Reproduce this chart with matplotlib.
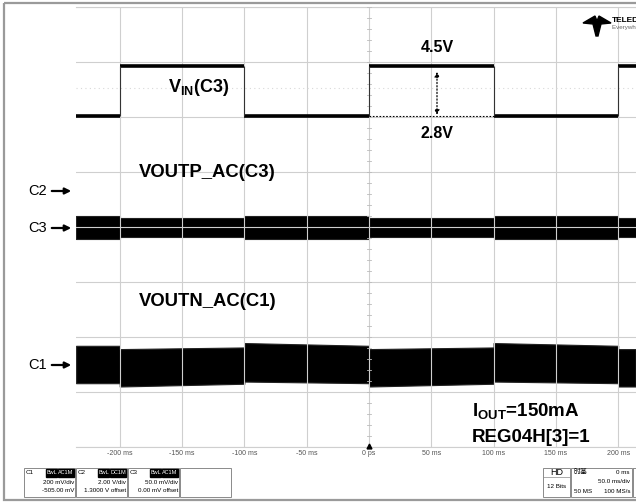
import matplotlib
matplotlib.use("Agg")
import matplotlib.pyplot as plt
from matplotlib.patches import Rectangle, Polygon, FancyArrowPatch
from matplotlib.transforms import Affine2D, Bbox, TransformedBbox

W, H = 636, 503

# time axis in ms, vertical axis in screen divisions (0 = bottom graticule line)
tick_ms = [-250, -200, -150, -100, -50, 0, 50, 100, 150, 200]
tick_text = ["-250 ms", "-200 ms", "-150 ms", "-100 ms", "-50 ms", "0 ps",
             "50 ms", "100 ms", "150 ms", "200 ms"]

# VIN square wave, one level per segment
vin_t = [-235, -200, -100, 0, 100, 200, 214]
vin_level = [6.02, 6.92, 6.02, 6.92, 6.02, 6.92]

# ripple envelopes of the two outputs
env_t = [-235, -200, -200, -100, -100, 0, 0, 100, 100, 200, 200, 214]
vp_top = [4.20, 4.20, 4.16, 4.16, 4.20, 4.20, 4.16, 4.16, 4.20, 4.20, 4.16, 4.16]
vp_bot = [3.78, 3.78, 3.82, 3.82, 3.78, 3.78, 3.82, 3.82, 3.78, 3.78, 3.82, 3.82]
vn_top = [1.84, 1.84, 1.78, 1.81, 1.89, 1.84, 1.78, 1.81, 1.89, 1.84, 1.78, 1.78]
vn_bot = [1.16, 1.16, 1.10, 1.15, 1.19, 1.16, 1.10, 1.15, 1.19, 1.16, 1.10, 1.10]

# channel setup boxes
ch_names = ["C1", "C2", "C3"]
ch_coupling = ["AC1M", "DC1M", "AC1M"]
ch_scale = ["200 mV/div", "2.00 V/div", "50.0 mV/div"]
ch_offset = ["-505.00 mV", "1.3000 V offset", "0.00 mV offset"]

plt.rcParams["mathtext.fontset"] = "custom"
plt.rcParams["mathtext.rm"] = "Liberation Sans:bold"
plt.rcParams["mathtext.bf"] = "Liberation Sans:bold"
plt.rcParams["font.family"] = ["Liberation Sans", "DejaVu Sans"]

fig = plt.figure(figsize=(W / 100, H / 100), dpi=100)
# pixel coordinates, y pointing down
pix = Affine2D().scale(1 / W, -1 / H).translate(0, 1) + fig.transFigure

ax = fig.add_axes([76 / W, (H - 447) / H, (W - 76) / W, 440 / H])
for s in ax.spines.values():
    s.set_visible(False)

# graticule
ax.set_yticks(range(9))
ax.set_xticks(tick_ms)
ax.set_xlim(-235.1, 214.3)
ax.set_ylim(0, 8)
ax.grid(color="#cfcfcf", lw=0.8)
ax.tick_params(length=0, labelleft=False, labelbottom=False)
ax.axhline(8, color="#cfcfcf", lw=0.8, clip_on=False)
ax.axhline(0, color="#cfcfcf", lw=0.8, clip_on=False)
for i in range(41):
    ax.plot([-1.6, 1.6], [i * 0.2, i * 0.2], color="#bbbbbb", lw=0.6)
ax.axhline(6.53, color="#d8d8d8", lw=0.8, ls=(0, (1, 3)))

clip = TransformedBbox(Bbox([[72 / W, 0], [1, 1]]), fig.transFigure)
for t, lab in zip(tick_ms, tick_text):
    txt = ax.text(t, -0.11, lab, ha="center", va="center", fontsize=5,
                  color="#555555", family=["Liberation Sans Narrow", "Liberation Sans"],
                  clip_on=True)
    txt.set_clip_box(clip)
ax.plot([0], [0.02], marker="^", color="black", ms=3.5, clip_on=False)

# VIN trace
ax.hlines(vin_level, vin_t[:-1], vin_t[1:], color="black", lw=2.6)
ax.vlines(vin_t[1:-1], min(vin_level), max(vin_level), color="#333333", lw=0.8)

# output ripple bands
ax.fill_between(env_t, vp_bot, vp_top, color="black", lw=0.8, edgecolor="#222222")
ax.fill_between(env_t, vn_bot, vn_top, color="black", lw=0.8, edgecolor="#222222")

# VIN step annotation
ax.hlines(min(vin_level), 0, 100, color="black", lw=0.8, ls=(0, (1.5, 1.5)))
ax.annotate("", xy=(54.6, 6.82), xytext=(54.6, 6.04),
            arrowprops=dict(arrowstyle="<|-|>", color="black", lw=0.9, ls=":",
                            mutation_scale=7, shrinkA=0, shrinkB=0))
ax.text(54.6, 7.26, "4.5V", ha="center", va="center", fontsize=11.5, fontweight="bold")
ax.text(54.6, 5.70, "2.8V", ha="center", va="center", fontsize=11.5, fontweight="bold")

# trace names
ax.text(-161.4, 6.53, r"V$_{\mathrm{IN}}$(C3)", ha="left", va="center",
        fontsize=13, fontweight="bold")
ax.text(-184.7, 5.0, "VOUTP_AC(C3)", ha="left", va="center", fontsize=13.3, fontweight="bold")
ax.text(-184.7, 2.64, "VOUTN_AC(C1)", ha="left", va="center", fontsize=13.3, fontweight="bold")
ax.text(82.7, 0.64, r"I$_{\mathrm{OUT}}$=150mA", ha="left", va="center",
        fontsize=13.5, fontweight="bold")
ax.text(82.7, 0.18, "REG04H[3]=1", ha="left", va="center", fontsize=13.5, fontweight="bold")

# channel ground markers
for name, y in [("C2", 191), ("C3", 228), ("C1", 365)]:
    fig.text(47, y, name, transform=pix, ha="right", va="center", fontsize=10.5)
    fig.add_artist(FancyArrowPatch((49, y), (74, y), transform=pix, arrowstyle="-|>",
                                   mutation_scale=9, lw=1.6, color="black"))

# screen frame
fig.add_artist(Rectangle((4, 3), 640, 497, transform=pix, fill=False,
                         edgecolor="#9a9a9a", lw=1.6))

# logo
logo = [(583, 23), (595, 16), (597, 21), (599, 16), (611, 23), (601, 24),
        (598, 36), (596, 36), (593, 24)]
fig.add_artist(Polygon(logo, closed=True, transform=pix, color="black"))
fig.text(612, 20, "TELEDYNE", transform=pix, fontsize=6, fontweight="bold", va="center")
fig.text(612, 28, "Everywhere you look", transform=pix, fontsize=4.5, color="#666666",
         va="center")

# channel setup boxes
for i, name in enumerate(ch_names):
    x0 = 24 + i * 52
    fig.add_artist(Rectangle((x0, 468), 51, 29, transform=pix, fill=False,
                             edgecolor="#8a8a8a", lw=0.7))
    fig.add_artist(Rectangle((x0 + 22, 469), 11, 8, transform=pix, color="black"))
    fig.add_artist(Rectangle((x0 + 34, 469), 16, 8, transform=pix, color="black"))
    fig.text(x0 + 2, 472.5, name, transform=pix, fontsize=4.5, va="center")
    fig.text(x0 + 27.5, 473, "BwL", transform=pix, fontsize=4, color="white",
             ha="center", va="center")
    fig.text(x0 + 42, 473, ch_coupling[i], transform=pix, fontsize=4, color="white",
             ha="center", va="center")
    fig.text(x0 + 50, 483, ch_scale[i], transform=pix, fontsize=4.5, ha="right", va="center")
    fig.text(x0 + 50, 491, ch_offset[i], transform=pix, fontsize=4.5, ha="right", va="center")
fig.add_artist(Rectangle((180, 468), 51, 29, transform=pix, fill=False,
                         edgecolor="#8a8a8a", lw=0.7))

# acquisition / timebase boxes
fig.add_artist(Rectangle((543, 468), 27, 29, transform=pix, fill=False,
                         edgecolor="#8a8a8a", lw=0.7))
fig.add_artist(Rectangle((543, 477), 27, 0.1, transform=pix, fill=False,
                         edgecolor="#8a8a8a", lw=0.5))
fig.text(556.5, 472.5, "HD", transform=pix, fontsize=6.5, ha="center", va="center")
fig.text(556.5, 487, "12 Bits", transform=pix, fontsize=4.5, ha="center", va="center")
fig.add_artist(Rectangle((571, 468), 61, 29, transform=pix, fill=False,
                         edgecolor="#8a8a8a", lw=0.7))
fig.add_artist(Rectangle((633, 468), 20, 29, transform=pix, fill=False,
                         edgecolor="#8a8a8a", lw=0.7))
fig.text(574, 472.5, "时基", transform=pix, fontsize=5,
         family=["Noto Sans CJK SC", "DejaVu Sans"], va="center")
fig.text(630, 472.5, "0 ms", transform=pix, fontsize=4.5, ha="right", va="center")
fig.text(630, 482, "50.0 ms/div", transform=pix, fontsize=4.5, ha="right", va="center")
fig.text(574, 492, "50 MS", transform=pix, fontsize=4.5, va="center")
fig.text(630, 492, "100 MS/s", transform=pix, fontsize=4.5, ha="right", va="center")

fig.savefig("out.png", dpi=100)
